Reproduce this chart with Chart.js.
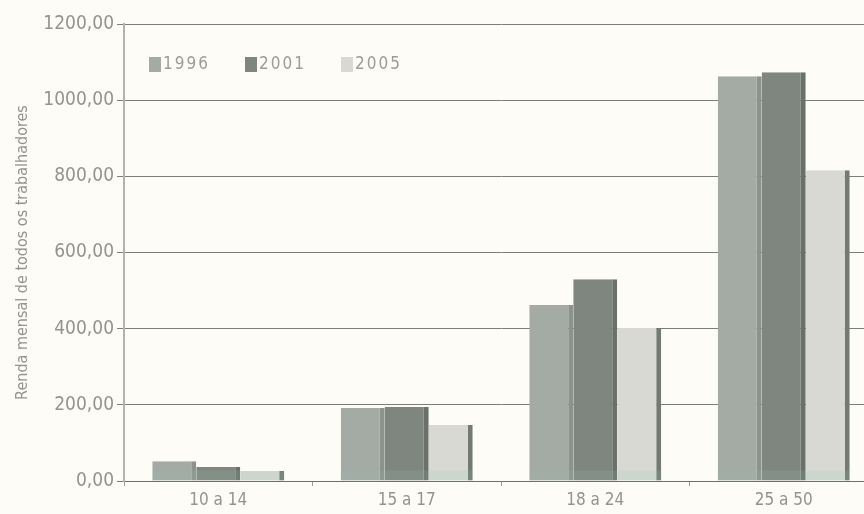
<!DOCTYPE html>
<html>
<head>
<meta charset="utf-8">
<script src="https://cdn.jsdelivr.net/npm/chart.js@4/dist/chart.umd.min.js"></script>
<style>
  html, body { margin: 0; padding: 0; background: #fdfcf6; overflow: hidden; }
  #renda { display: block; }
</style>
</head>
<body>
<canvas id="renda" width="880" height="514"></canvas>
<script>
// faixas etarias e renda media mensal por ano
var faixas = ['10 a 14', '15 a 17', '18 a 24', '25 a 50'];
var anos = ['1996', '2001', '2005'];
var renda1996 = [52, 192, 462, 1063];
var renda2001 = [37, 194, 530, 1073];
var renda2005 = [26, 147, 402, 816];

var frente = ['#a4aaa4', '#7f867f', '#d7d9d2'];
var lateral = ['#8c928c', '#6a716b', '#737973'];

var fonte = "'DejaVu Sans Condensed', 'DejaVu Sans', sans-serif";
var cinzaTexto = '#94948f';

// legenda desenhada dentro da area do grafico
var legendaInterna = {
  id: 'legendaInterna',
  afterDraw: function (chart) {
    var ctx = chart.ctx;
    var area = chart.chartArea;
    ctx.save();
    ctx.font = '17px ' + fonte;
    ctx.letterSpacing = '2px';
    ctx.textBaseline = 'middle';
    chart.data.datasets.forEach(function (ds, i) {
      var x = area.left + 25 + i * 96;
      var y = area.top + 40;
      ctx.fillStyle = ds.backgroundColor;
      ctx.fillRect(x, y - 7, 12, 15);
      ctx.fillStyle = '#9c9c98';
      ctx.fillText(ds.label, x + 14, y + 1);
    });
    ctx.restore();
  }
};

// reflexo esverdeado na base das barras
var reflexoBase = {
  id: 'reflexoBase',
  afterDatasetsDraw: function (chart) {
    var ctx = chart.ctx;
    ctx.save();
    chart.data.datasets.forEach(function (ds, i) {
      chart.getDatasetMeta(i).data.forEach(function (bar) {
        var esq = bar.x - bar.width / 2;
        var h = Math.min(10, bar.base - bar.y);
        ctx.fillStyle = 'rgba(150, 200, 190, 0.15)';
        ctx.fillRect(esq, bar.base - h, bar.width, h);
      });
    });
    ctx.restore();
  }
};

function serie(i, valores) {
  return {
    label: anos[i],
    data: valores,
    backgroundColor: frente[i],
    borderColor: lateral[i],
    borderWidth: { right: 5, top: 0, left: 0, bottom: 0 },
    borderSkipped: false,
    categoryPercentage: 0.7,
    barPercentage: 1.0
  };
}

var ctx = document.getElementById('renda');
var chart = new Chart(ctx, {
  type: 'bar',
  data: {
    labels: faixas,
    datasets: [
      serie(0, renda1996),
      serie(1, renda2001),
      serie(2, renda2005)
    ]
  },
  options: {
    responsive: false,
    animation: false,
    layout: { padding: { top: 24, right: 2, left: 0, bottom: 0 } },
    plugins: {
      legend: { display: false },
      tooltip: { enabled: false }
    },
    scales: {
      x: {
        afterFit: function (scale) { scale.height = 33; },
        grid: {
          display: true,
          drawOnChartArea: false,
          offset: true,
          tickLength: 5,
          color: '#9a9a96'
        },
        border: { color: '#6f6f6b', width: 1 },
        ticks: {
          color: cinzaTexto,
          padding: 4,
          font: { family: fonte, size: 17 }
        }
      },
      y: {
        min: 0,
        max: 1200,
        afterFit: function (scale) { scale.width = 124; },
        ticks: {
          stepSize: 200,
          color: cinzaTexto,
          padding: 3,
          font: { family: fonte, size: 19 },
          callback: function (v) { return v.toFixed(2).replace('.', ','); }
        },
        grid: {
          color: '#7d7d79',
          lineWidth: 1,
          tickLength: 7
        },
        border: { color: '#b3b3ae', width: 2 },
        title: {
          display: true,
          text: 'Renda mensal de todos os trabalhadores',
          color: cinzaTexto,
          padding: { top: 13, bottom: 2 },
          font: { family: fonte, size: 16 }
        }
      }
    }
  },
  plugins: [legendaInterna, reflexoBase]
});
</script>
</body>
</html>
